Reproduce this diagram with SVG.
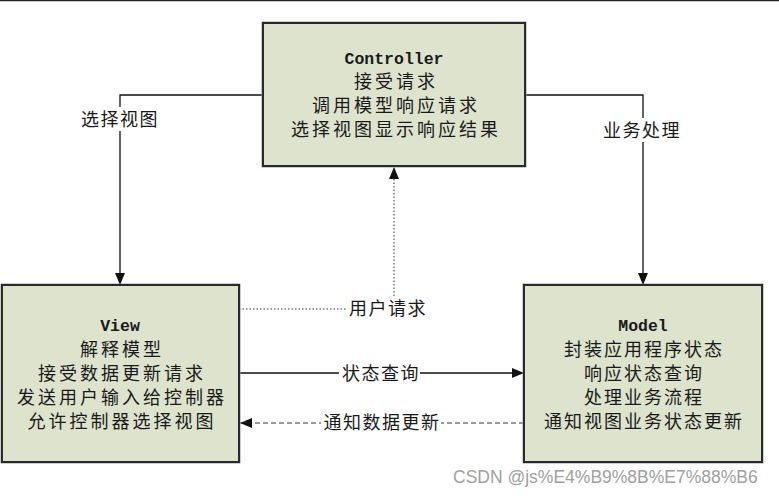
<svg xmlns="http://www.w3.org/2000/svg" width="779" height="498" viewBox="0 0 779 498">
<style>
.box{fill:#dde3cd;stroke:#2a2a2a;stroke-width:2}
.shadow{fill:none;stroke:#9a9a9a;stroke-width:1}
.t{font-family:"Noto Sans CJK SC","Noto Sans",sans-serif;font-size:18px;letter-spacing:3px;fill:#1a1a1a;text-anchor:middle}
.h{font-family:"Liberation Mono",monospace;font-weight:bold;font-size:16.5px;fill:#1a1a1a;text-anchor:middle}
.lbl{font-family:"Noto Sans CJK SC","Noto Sans",sans-serif;font-size:18px;letter-spacing:1.5px;fill:#1a1a1a;text-anchor:middle}
.ln{fill:none;stroke:#111;stroke-width:1.3}
.dot{fill:none;stroke:#333;stroke-width:1;stroke-dasharray:1.5,2}
.dash{fill:none;stroke:#333;stroke-width:1.2;stroke-dasharray:5,3}
.bg{fill:#ffffff}
.wm{font-family:"Liberation Sans",Arial,sans-serif;font-size:17.5px;fill:#a0a0a0}
</style>
<defs>
<marker id="arr" viewBox="0 0 12 10" refX="12" refY="5" markerWidth="12" markerHeight="10" markerUnits="userSpaceOnUse" orient="auto">
<path d="M0,0 L12,5 L0,10 Z" fill="#111"/>
</marker>
</defs>
<rect x="0" y="0" width="779" height="498" fill="#ffffff"/>
<line x1="0" y1="0.5" x2="779" y2="0.5" stroke="#222" stroke-width="1.5"/>

<g id="connectors">
<path class="ln" d="M263,95 H120 V285" marker-end="url(#arr)"/>
<path class="ln" d="M525,95 H643 V285" marker-end="url(#arr)"/>
<path class="dot" d="M239,309 H394 V167" marker-end="url(#arr)"/>
<path class="ln" d="M239,373 H524" marker-end="url(#arr)"/>
<path class="dash" d="M524,423 H240" marker-end="url(#arr)"/>
<rect class="bg" x="79" y="107" width="80" height="24"/>
<text class="lbl" x="120" y="126">选择视图</text>
<rect class="bg" x="601" y="118" width="80" height="24"/>
<text class="lbl" x="642" y="137">业务处理</text>
<rect class="bg" x="347" y="296" width="81" height="24"/>
<text class="lbl" x="388" y="315">用户请求</text>
<rect class="bg" x="339" y="361" width="81" height="24"/>
<text class="lbl" x="381" y="380">状态查询</text>
<rect class="bg" x="321" y="410" width="120" height="24"/>
<text class="lbl" x="382" y="429">通知数据更新</text>
</g>

<g id="controller">
<rect class="shadow" x="262" y="22" width="264" height="145"/>
<rect class="box" x="263" y="23" width="262" height="143"/>
<text class="h" x="394" y="64">Controller</text>
<text class="t" x="396" y="88">接受请求</text>
<text class="t" x="396" y="112">调用模型响应请求</text>
<text class="t" x="396" y="136">选择视图显示响应结果</text>
</g>

<g id="view">
<rect class="shadow" x="1" y="284" width="239" height="179"/>
<rect class="box" x="2" y="285" width="237" height="177"/>
<text class="h" x="120" y="331">View</text>
<text class="t" x="122" y="355.5">解释模型</text>
<text class="t" x="122" y="379.5">接受数据更新请求</text>
<text class="t" x="122" y="403.5">发送用户输入给控制器</text>
<text class="t" x="122" y="427.5">允许控制器选择视图</text>
</g>

<g id="model">
<rect class="shadow" x="523" y="284" width="240" height="179"/>
<rect class="box" x="524" y="285" width="238" height="177"/>
<text class="h" x="643" y="331">Model</text>
<text class="t" x="644" y="355.5" style="letter-spacing:2px">封装应用程序状态</text>
<text class="t" x="644" y="379.5" style="letter-spacing:2px">响应状态查询</text>
<text class="t" x="644" y="403.5" style="letter-spacing:2px">处理业务流程</text>
<text class="t" x="644" y="427.5" style="letter-spacing:2px">通知视图业务状态更新</text>
</g>

<text class="wm" x="453" y="483">CSDN @js%E4%B9%8B%E7%88%B6</text>
</svg>
